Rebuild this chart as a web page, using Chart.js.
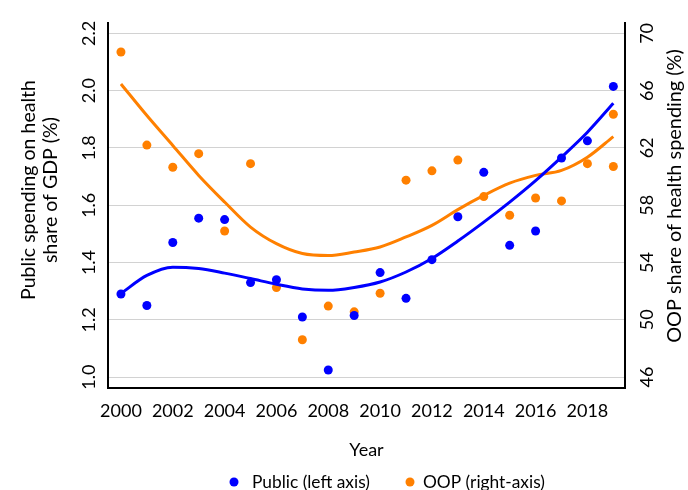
<!DOCTYPE html>
<html>
<head>
<meta charset="utf-8">
<script src="https://cdn.jsdelivr.net/npm/chart.js@4/dist/chart.umd.min.js"></script>
<style>
  html, body { margin: 0; padding: 0; background: #fff; }
  canvas { display: block; }
</style>
</head>
<body>
<canvas id="chart" width="688" height="490"></canvas>
<script>
// Years observed
const years = [2000, 2001, 2002, 2003, 2004, 2005, 2006, 2007, 2008, 2009,
               2010, 2011, 2012, 2013, 2014, 2015, 2016, 2017, 2018, 2019];

// Public spending on health, share of GDP (%)
const publicShare = [1.29, 1.25, 1.47, 1.555, 1.55, 1.33, 1.34, 1.21, 1.025, 1.215,
                     1.365, 1.275, 1.41, 1.56, 1.715, 1.46, 1.51, 1.765, 1.825, 2.015];

// Out-of-pocket share of health spending (%), two observations for 2019
const oopYears = [2000, 2001, 2002, 2003, 2004, 2005, 2006, 2007, 2008, 2009,
                  2010, 2011, 2012, 2013, 2014, 2015, 2016, 2017, 2018, 2019, 2019];
const oopShare = [68.7, 62.2, 60.65, 61.6, 56.2, 60.9, 52.25, 48.6, 50.95, 50.55,
                  51.85, 59.75, 60.4, 61.15, 58.6, 57.3, 58.5, 58.3, 60.9, 64.35, 60.7];

// Smoothed trend of each series, by year
const publicTrend = [1.292, 1.355, 1.384, 1.379, 1.363, 1.344, 1.324, 1.308, 1.303, 1.313,
                     1.332, 1.367, 1.414, 1.475, 1.541, 1.611, 1.686, 1.768, 1.855, 1.956];
const oopTrend = [66.47, 64.26, 62.17, 60.08, 58.22, 56.47, 55.31, 54.62, 54.48, 54.73,
                  55.08, 55.78, 56.59, 57.69, 58.68, 59.54, 60.08, 60.43, 61.35, 62.79];

// Axis ticks
const yearTicks = [2000, 2002, 2004, 2006, 2008, 2010, 2012, 2014, 2016, 2018];
const leftTicks = [1.0, 1.2, 1.4, 1.6, 1.8, 2.0, 2.2];
const rightTicks = [46, 50, 54, 58, 62, 66, 70];

const leftTitle = ['Public spending on health', 'share of GDP (%)'];
const rightTitle = 'OOP share of health spending (%)';
const legendLabels = ['Public (left axis)', 'OOP (right-axis)'];

const BLUE = 'rgb(0, 0, 255)';
const ORANGE = 'rgb(255, 128, 0)';
const FONT = 'Lato';

const pts = (xs, ys) => ys.map((y, i) => ({ x: xs[i], y }));

Chart.defaults.font.family = FONT;
Chart.defaults.color = '#000';

// font size that makes `text` span `width` pixels
function fitSize(ctx, text, width) {
  ctx.font = '20px ' + FONT;
  return 20 * width / ctx.measureText(text).width;
}

// Vertical axis titles (reading upwards) and the legend row
const extras = {
  id: 'extras',
  afterDraw(chart) {
    const { ctx } = chart;

    const drawUp = (text, x, y, size) => {
      ctx.save();
      ctx.font = size + 'px ' + FONT;
      ctx.fillStyle = '#000';
      ctx.textAlign = 'center';
      ctx.textBaseline = 'middle';
      ctx.translate(x, y);
      ctx.rotate(-Math.PI / 2);
      ctx.fillText(text, 0, 0);
      ctx.restore();
    };

    const leftSize = fitSize(ctx, leftTitle[0], 220);
    drawUp(leftTitle[0], 29, 190, leftSize);
    drawUp(leftTitle[1], 51, 190, leftSize);

    const rightSize = fitSize(ctx, rightTitle, 294);
    drawUp(rightTitle, 675, 196, rightSize);

    const legendSize = fitSize(ctx, legendLabels[0], 118);
    const items = [
      { label: legendLabels[0], color: BLUE, dot: 234, text: 252 },
      { label: legendLabels[1], color: ORANGE, dot: 410, text: 423 }
    ];
    const y = 482;
    ctx.save();
    ctx.font = legendSize + 'px ' + FONT;
    ctx.textAlign = 'left';
    ctx.textBaseline = 'middle';
    items.forEach(it => {
      ctx.fillStyle = it.color;
      ctx.beginPath();
      ctx.arc(it.dot, y, 4.5, 0, Math.PI * 2);
      ctx.fill();
      ctx.fillStyle = '#000';
      ctx.fillText(it.label, it.text, y);
    });
    ctx.restore();
  }
};

new Chart(document.getElementById('chart'), {
  type: 'scatter',
  data: {
    datasets: [
      {
        label: 'Public trend',
        data: pts(years, publicTrend),
        yAxisID: 'y',
        showLine: true,
        borderColor: BLUE,
        borderWidth: 3,
        pointRadius: 0,
        cubicInterpolationMode: 'monotone',
        order: 0
      },
      {
        label: 'OOP trend',
        data: pts(years, oopTrend),
        yAxisID: 'y1',
        showLine: true,
        borderColor: ORANGE,
        borderWidth: 3,
        pointRadius: 0,
        cubicInterpolationMode: 'monotone',
        order: 1
      },
      {
        label: legendLabels[0],
        data: pts(years, publicShare),
        yAxisID: 'y',
        backgroundColor: BLUE,
        borderWidth: 0,
        pointRadius: 4.5,
        order: 2
      },
      {
        label: legendLabels[1],
        data: pts(oopYears, oopShare),
        yAxisID: 'y1',
        backgroundColor: ORANGE,
        borderWidth: 0,
        pointRadius: 4.5,
        order: 3
      }
    ]
  },
  options: {
    responsive: false,
    animation: false,
    events: [],
    devicePixelRatio: 1,
    layout: { padding: { top: 22, left: 0, right: 0, bottom: 0 } },
    plugins: { legend: { display: false }, tooltip: { enabled: false } },
    scales: {
      x: {
        type: 'linear',
        min: 1999.5,
        max: 2019.45,
        afterBuildTicks: s => { s.ticks = yearTicks.map(v => ({ value: v })); },
        afterFit: s => { s.height = 102; },
        ticks: {
          callback: v => String(v),
          font: { size: 18 },
          color: '#000',
          padding: 12,
          autoSkip: false,
          maxRotation: 0
        },
        grid: { display: false, drawTicks: false },
        border: { color: '#000', width: 2 },
        title: {
          display: true,
          text: 'Year',
          font: { size: 18 },
          color: '#000',
          padding: { top: 0, bottom: 29 }
        }
      },
      y: {
        type: 'linear',
        position: 'left',
        min: 0.962,
        max: 2.237,
        afterBuildTicks: s => { s.ticks = leftTicks.map(v => ({ value: v })); },
        afterFit: s => { s.width = 108; },
        ticks: {
          callback: v => v.toFixed(1),
          font: { size: 18 },
          color: '#000',
          minRotation: 90,
          maxRotation: 90,
          crossAlign: 'center',
          padding: 6
        },
        grid: { color: '#d2d2d2', lineWidth: 1, drawTicks: false },
        border: { color: '#000', width: 2 },
        title: { display: false }
      },
      y1: {
        type: 'linear',
        position: 'right',
        min: 45.23,
        max: 70.74,
        afterBuildTicks: s => { s.ticks = rightTicks.map(v => ({ value: v })); },
        afterFit: s => { s.width = 63; },
        ticks: {
          callback: v => String(v),
          font: { size: 18 },
          color: '#000',
          minRotation: 90,
          maxRotation: 90,
          crossAlign: 'center',
          padding: 12
        },
        grid: { display: false, drawTicks: false },
        border: { color: '#000', width: 2 },
        title: { display: false }
      }
    }
  },
  plugins: [extras]
});
</script>
</body>
</html>
